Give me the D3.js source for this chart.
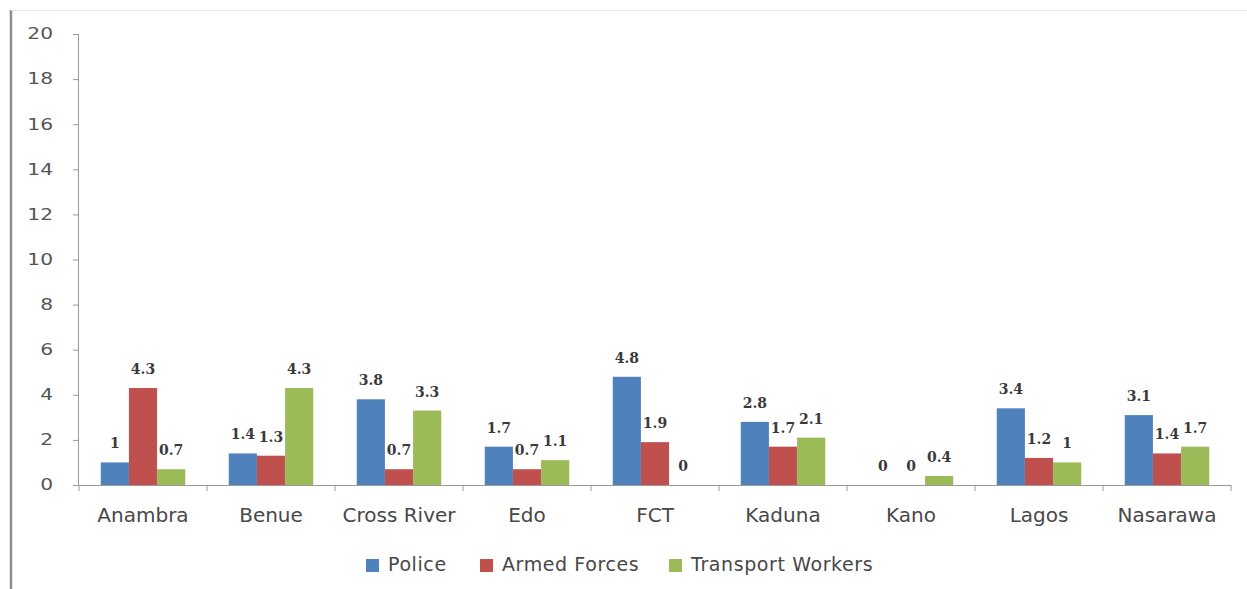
<!DOCTYPE html>
<html>
<head>
<meta charset="utf-8">
<script src="https://cdn.jsdelivr.net/npm/d3@7"></script>
<style>
  html, body { margin: 0; padding: 0; background: #fff; }
  svg { display: block; }
</style>
</head>
<body>
<svg id="chart" width="1247" height="589"></svg>
<script>
// Rates by state and occupational group
const states = ["Anambra", "Benue", "Cross River", "Edo", "FCT", "Kaduna", "Kano", "Lagos", "Nasarawa"];
const seriesNames = ["Police", "Armed Forces", "Transport Workers"];
const police = [1, 1.4, 3.8, 1.7, 4.8, 2.8, 0, 3.4, 3.1];
const armedForces = [4.3, 1.3, 0.7, 0.7, 1.9, 1.7, 0, 1.2, 1.4];
const transportWorkers = [0.7, 4.3, 3.3, 1.1, 0, 2.1, 0.4, 1, 1.7];
const yTicks = [0, 2, 4, 6, 8, 10, 12, 14, 16, 18, 20];
const colors = ["#4F81BD", "#C0504D", "#9BBB59"];

const seriesValues = [police, armedForces, transportWorkers];

const svg = d3.select("#chart");
const margin = { left: 79, right: 16, top: 34, bottom: 104 };
const W = 1247, H = 589;
const textColor = "#484848";

// frame border
svg.append("line").attr("x1", 11).attr("x2", 11).attr("y1", 10).attr("y2", H)
  .attr("stroke", "#8c8c8c").attr("stroke-width", 2.5);
svg.append("line").attr("x1", 11).attr("x2", W).attr("y1", 10.5).attr("y2", 10.5)
  .attr("stroke", "#e4e4e4").attr("stroke-width", 1);

const x = d3.scaleBand().domain(states).range([margin.left, W - margin.right]).paddingInner(0).paddingOuter(0);
const inner = d3.scaleBand().domain(seriesNames).range([x.bandwidth() * 0.17, x.bandwidth() * 0.83]);
const y = d3.scaleLinear().domain([0, 20]).range([H - margin.bottom, margin.top]);

// y axis
const yStretch = 1.35;
const yAxis = svg.append("g").attr("transform", `translate(${margin.left},0)`)
  .call(d3.axisLeft(y).tickValues(yTicks).tickSize(6));
yAxis.select(".domain").attr("stroke", "#9a9a9a").attr("d", `M-0.5,${y(0)}V${y(20)}`);
yAxis.selectAll(".tick line").attr("stroke", "#9a9a9a");
yAxis.selectAll(".tick text")
  .attr("x", -26 / yStretch)
  .attr("transform", `scale(${yStretch},1)`)
  .attr("font-family", "'DejaVu Sans', sans-serif").attr("font-size", 15)
  .attr("fill", "#555");

// bars
const groups = svg.append("g").selectAll("g").data(states).join("g")
  .attr("transform", d => `translate(${x(d)},0)`);

seriesNames.forEach((name, si) => {
  groups.append("rect")
    .attr("x", inner(name))
    .attr("width", inner.bandwidth())
    .attr("y", (d, i) => y(seriesValues[si][i]))
    .attr("height", (d, i) => y(0) - y(seriesValues[si][i]))
    .attr("fill", colors[si]);
  groups.append("text")
    .attr("x", inner(name) + inner.bandwidth() / 2)
    .attr("y", (d, i) => y(seriesValues[si][i]) - 14)
    .attr("text-anchor", "middle")
    .attr("font-family", "'DejaVu Serif', serif").attr("font-weight", "bold")
    .attr("font-size", 14).attr("fill", "#3a3a3a")
    .text((d, i) => seriesValues[si][i]);
});

// x axis
const xAxisG = svg.append("g").attr("transform", `translate(0,${y(0)})`);
xAxisG.append("line").attr("x1", margin.left).attr("x2", W - margin.right)
  .attr("y1", 0.5).attr("y2", 0.5).attr("stroke", "#9a9a9a");
const boundaries = states.map(s => x(s)).concat([x(states[states.length - 1]) + x.bandwidth()]);
xAxisG.selectAll("line.tk").data(boundaries).join("line").attr("class", "tk")
  .attr("x1", d => d).attr("x2", d => d).attr("y1", 0).attr("y2", 6).attr("stroke", "#9a9a9a");
xAxisG.selectAll("text").data(states).join("text")
  .attr("x", d => x(d) + x.bandwidth() / 2).attr("y", 37)
  .attr("text-anchor", "middle")
  .attr("font-family", "'DejaVu Sans', sans-serif").attr("font-size", 20)
  .attr("fill", textColor)
  .text(d => d);

// legend
const legendX = [366, 480, 669];
const legend = svg.append("g");
seriesNames.forEach((name, i) => {
  legend.append("rect").attr("x", legendX[i]).attr("y", 559).attr("width", 13).attr("height", 13)
    .attr("fill", colors[i]);
  legend.append("text").attr("x", legendX[i] + 22).attr("y", 571)
    .attr("font-family", "'DejaVu Sans', sans-serif").attr("font-size", 19)
    .attr("letter-spacing", 0.6)
    .attr("fill", textColor).text(name);
});
</script>
</body>
</html>
